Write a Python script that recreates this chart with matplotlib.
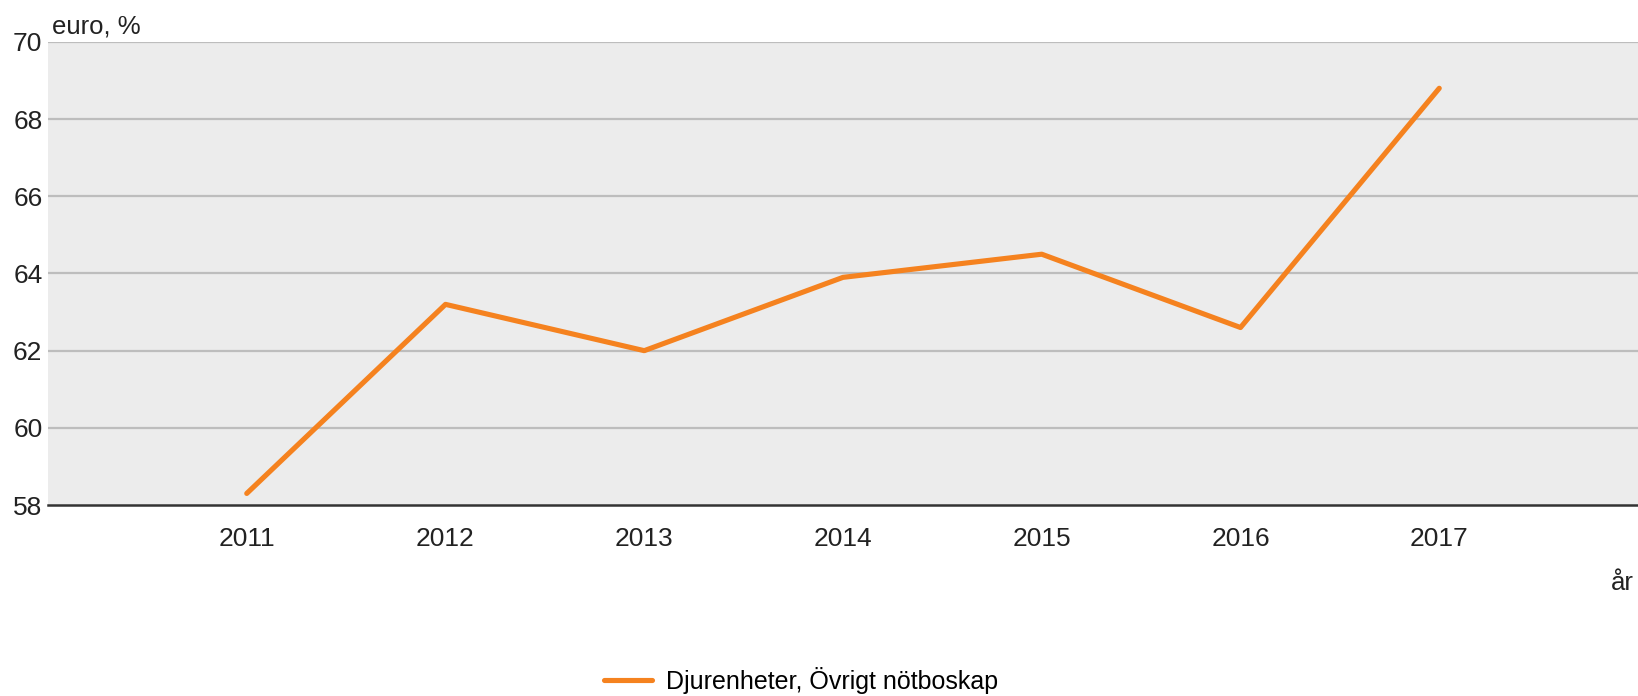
import matplotlib
matplotlib.use("Agg")
import matplotlib.pyplot as plt

plt.rcParams['font.family'] = ['Liberation Sans', 'DejaVu Sans']

years = [2011, 2012, 2013, 2014, 2015, 2016, 2017]
values = [58.3, 63.2, 62.0, 63.9, 64.5, 62.6, 68.8]
yticks = [58, 60, 62, 64, 66, 68, 70]
series_name = "Djurenheter, Övrigt nötboskap"

fig = plt.figure(figsize=(16.38, 6.96), dpi=100)
ax = fig.add_axes([0.0293, 0.2744, 0.9707, 0.6653])
ax.set_facecolor('#ececec')

# grid
for y in yticks[1:]:
    ax.axhline(y, color='#bdbdbd', lw=1.6, zorder=1)

line, = ax.plot(years, values, color='#f5821f', lw=3.7, solid_capstyle='round', zorder=3)

ax.set_xlim(2010, 2018)
ax.set_ylim(58, 70)
ax.set_xticks(years)
ax.set_xticklabels([str(y) for y in years])
ax.set_yticks(yticks)
ax.tick_params(axis='both', length=0, labelsize=19, colors='#222222')
ax.tick_params(axis='x', pad=16)
ax.tick_params(axis='y', pad=4)

for s in ['top', 'right', 'left']:
    ax.spines[s].set_visible(False)
ax.spines['bottom'].set_color('#333333')
ax.spines['bottom'].set_linewidth(1.8)

fig.text(0.032, 0.952, "euro, %", fontsize=18.5, color='#222222', ha='left', va='baseline')
fig.text(0.9975, 0.152, "år", fontsize=18.5, color='#222222', ha='right', va='baseline')

fig.legend([line], [series_name], loc='center', bbox_to_anchor=(0.489, 0.022),
           frameon=False, fontsize=18, handlelength=1.9, handletextpad=0.55)

fig.savefig('out.png', dpi=100)
